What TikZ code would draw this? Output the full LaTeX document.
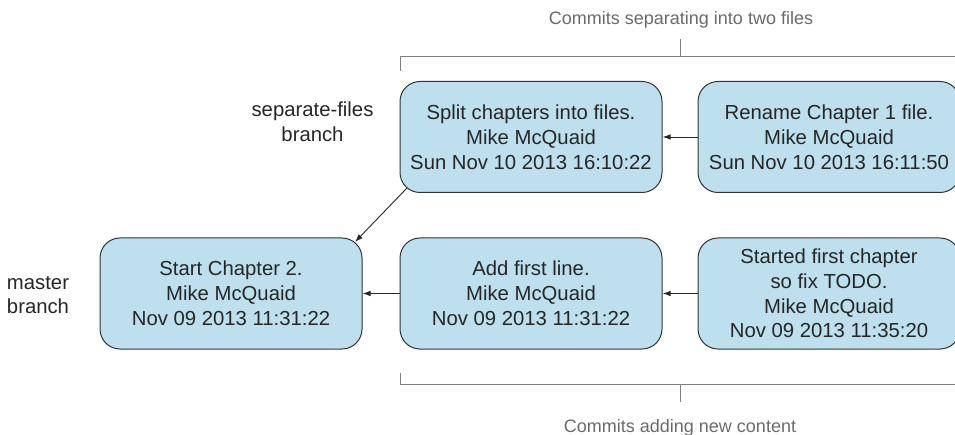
\documentclass[tikz,border=0pt]{standalone}
\usepackage{fontspec}
\setmainfont{Liberation Sans}
\usetikzlibrary{arrows.meta}
\definecolor{boxfill}{HTML}{BDDFEE}
\definecolor{boxline}{HTML}{333333}
\definecolor{brk}{HTML}{808080}
\definecolor{brktext}{HTML}{6A6A6A}
\tikzset{
  commit/.style={draw=boxline, line width=1pt, fill=boxfill, rounded corners=20pt,
    minimum width=262pt, minimum height=111pt, align=center, inner sep=0pt,
    font=\fontsize{20.3pt}{24.8pt}\selectfont, text=black!85},
  lbl/.style={align=center, font=\fontsize{20.3pt}{24.8pt}\selectfont, text=black!85},
  conn/.style={draw=black!85, line width=0.9pt, -{Latex[length=8pt,width=5.5pt]}},
  brkline/.style={draw=brk, line width=0.9pt},
  brklbl/.style={font=\fontsize{18pt}{20pt}\selectfont, text=brktext, anchor=base}
}
\begin{document}
\begin{tikzpicture}[x=1pt,y=-1pt]
\useasboundingbox (0,0) rectangle (955,435);
\node[commit] (split) at (531,137) {Split chapters into files.\\Mike McQuaid\\Sun Nov 10 2013 16:10:22};
\node[commit] (rename) at (829,137) {Rename Chapter 1 file.\\Mike McQuaid\\Sun Nov 10 2013 16:11:50};
\node[commit] (start) at (231,293.5) {Start Chapter 2.\\Mike McQuaid\\Nov 09 2013 11:31:22};
\node[commit] (add) at (531,293.5) {Add first line.\\Mike McQuaid\\Nov 09 2013 11:31:22};
\node[commit] (first) at (829,293.5) {Started first chapter\\so fix TODO.\\Mike McQuaid\\Nov 09 2013 11:35:20};
\node[lbl] (sfb) at (312.5,122) {separate-files\\branch};
\node[lbl] (mb) at (38,295) {master\\branch};
\draw[conn] (rename) -- (split);
\draw[conn] (first) -- (add);
\draw[conn] (add) -- (start);
\coordinate (dA) at (407,188);
\coordinate (dB) at (355,242);
\draw[conn] (dA) -- (dB);
% top bracket
\node[brklbl] (toplbl) at (681,25) {Commits separating into two files};
\coordinate (t1) at (400,71);
\coordinate (t2) at (400,56);
\coordinate (t3) at (965,56);
\coordinate (tm1) at (680,56);
\coordinate (tm2) at (680,39);
\draw[brkline] (t1) -- (t2) -- (t3);
\draw[brkline] (tm1) -- (tm2);
% bottom bracket
\node[brklbl] (botlbl) at (680,432) {Commits adding new content};
\coordinate (b1) at (400,373);
\coordinate (b2) at (400,384);
\coordinate (b3) at (965,384);
\coordinate (bm1) at (680,384);
\coordinate (bm2) at (680,402);
\draw[brkline] (b1) -- (b2) -- (b3);
\draw[brkline] (bm1) -- (bm2);
\end{tikzpicture}
\end{document}
